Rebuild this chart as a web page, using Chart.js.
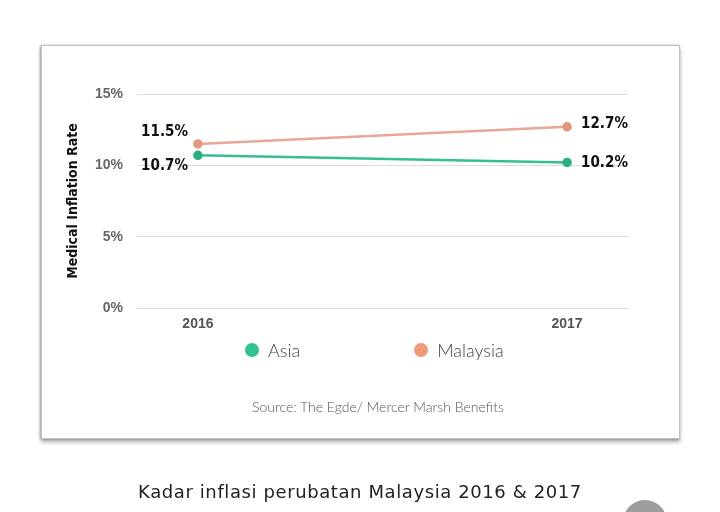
<!DOCTYPE html>
<html>
<head>
<meta charset="utf-8">
<script src="https://cdn.jsdelivr.net/npm/chart.js@4.4.1/dist/chart.umd.min.js"></script>
<style>
  html, body { margin:0; padding:0; background:#fff; }
  body { width:720px; height:512px; position:relative; overflow:hidden; }
  #card { position:absolute; left:41px; top:45px; width:637px; height:392px;
          border:1px solid #c0c0c0; background:#fff;
          box-shadow: 0px 3px 4px rgba(0,0,0,0.35), -1px 0 2px rgba(0,0,0,0.25); }
  #wrap { position:absolute; left:0; top:0; width:720px; height:512px; }
  #legend { position:absolute; left:245px; top:339px; display:flex; gap:114px;
            font-family: Lato, "Noto Sans", sans-serif; font-weight:300; font-size:18px; color:#444; }
  #legend .item { display:flex; align-items:center; height:22px; }
  #legend .dot { width:14px; height:14px; border-radius:50%; margin-right:9px; }
  #source { position:absolute; left:0; width:756px; top:398px; text-align:center;
            font-family: Lato, "Noto Sans", sans-serif; font-weight:300; font-size:14px; color:#555; }
  #caption { position:absolute; left:0; width:720px; top:481px; text-align:center;
             font-family: "DejaVu Sans", "Noto Sans", sans-serif; font-size:18px; letter-spacing:0.6px; color:#222; }
  #fab { position:absolute; left:623px; top:500px; width:44px; height:44px; border-radius:50%; background:#9e9e9e; }
</style>
</head>
<body>
<div id="card"></div>
<div id="wrap"><canvas id="c"></canvas></div>
<div id="legend"></div>
<div id="source">Source: The Egde/ Mercer Marsh Benefits</div>
<div id="caption">Kadar inflasi perubatan Malaysia 2016 &amp; 2017</div>
<div id="fab"></div>
<script>
const years = [2016, 2017];
const seriesNames = ['Asia', 'Malaysia'];
const asiaValues = [10.7, 10.2];
const malaysiaValues = [11.5, 12.7];
const yTicks = [0, 5, 10, 15];
const lineColors = ['#36bf92', '#e8a896'];
const pointColors = ['#2aae84', '#e2977f'];
const legendColors = ['#2fc290', '#ee9b7a'];

const seriesValues = [asiaValues, malaysiaValues];
const condensed = '"DejaVu Sans Condensed", "Liberation Sans Narrow", "Roboto Condensed", "DejaVu Sans", sans-serif';

const valueLabels = {
  id: 'valueLabels',
  afterDatasetsDraw(chart) {
    const ctx = chart.ctx;
    ctx.save();
    ctx.font = 'bold 15px ' + condensed;
    ctx.fillStyle = '#111';
    ctx.textBaseline = 'middle';
    chart.data.datasets.forEach((ds, di) => {
      const meta = chart.getDatasetMeta(di);
      meta.data.forEach((pt, i) => {
        const v = ds.data[i].y;
        const others = chart.data.datasets.map(d => d.data[i].y);
        const isTop = v === Math.max(...others);
        const txt = v.toFixed(1) + '%';
        if (i === 0) {
          ctx.textAlign = 'right';
          ctx.fillText(txt, pt.x - 10, pt.y + (isTop ? -12 : 11));
        } else {
          ctx.textAlign = 'left';
          ctx.fillText(txt, pt.x + 14, pt.y + (isTop ? -3 : 1));
        }
      });
    });
    ctx.restore();
  }
};

const chart = new Chart(document.getElementById('c'), {
  type: 'line',
  data: {
    datasets: seriesNames.map((name, k) => ({
      label: name,
      data: years.map((x, i) => ({ x: x, y: seriesValues[k][i] })),
      borderColor: lineColors[k],
      backgroundColor: pointColors[k],
      pointBackgroundColor: pointColors[k],
      pointBorderColor: pointColors[k],
      borderWidth: 2.5,
      pointRadius: 3.5,
      tension: 0,
      fill: false
    }))
  },
  options: {
    responsive: true,
    maintainAspectRatio: false,
    animation: false,
    devicePixelRatio: 1,
    layout: { padding: { left: 61, right: 92, top: 94, bottom: 164 } },
    plugins: { legend: { display: false }, tooltip: { enabled: false } },
    scales: {
      x: {
        type: 'linear',
        min: 2015.835,
        max: 2017.165,
        afterBuildTicks(scale) { scale.ticks = years.map(v => ({ value: v })); },
        afterFit(scale) { scale.height = 40; },
        grid: { display: false, drawTicks: false },
        border: { display: false },
        ticks: {
          padding: 8,
          color: '#555',
          font: { family: '"Liberation Sans", Arial, sans-serif', size: 14, weight: 'bold' },
          callback: v => String(v)
        }
      },
      y: {
        min: 0,
        max: 15,
        afterBuildTicks(scale) { scale.ticks = yTicks.map(v => ({ value: v })); },
        afterFit(scale) { scale.width = 76; },
        grid: { color: '#dcdcdc', lineWidth: 1, drawTicks: false },
        border: { display: false },
        ticks: {
          padding: 14,
          color: '#666',
          font: { family: '"Liberation Sans", Arial, sans-serif', size: 14, weight: 'bold' },
          callback: v => v + '%'
        },
        title: {
          display: true,
          text: 'Medical Inflation Rate',
          color: '#111',
          font: { family: condensed, size: 14, weight: 'bold' },
          padding: { top: 4, bottom: 4 }
        }
      }
    }
  },
  plugins: [valueLabels]
});

const legend = document.getElementById('legend');
seriesNames.forEach((name, k) => {
  const item = document.createElement('div');
  item.className = 'item';
  const dot = document.createElement('span');
  dot.className = 'dot';
  dot.style.background = legendColors[k];
  const t = document.createElement('span');
  t.textContent = name;
  item.appendChild(dot);
  item.appendChild(t);
  legend.appendChild(item);
});
</script>
</body>
</html>
